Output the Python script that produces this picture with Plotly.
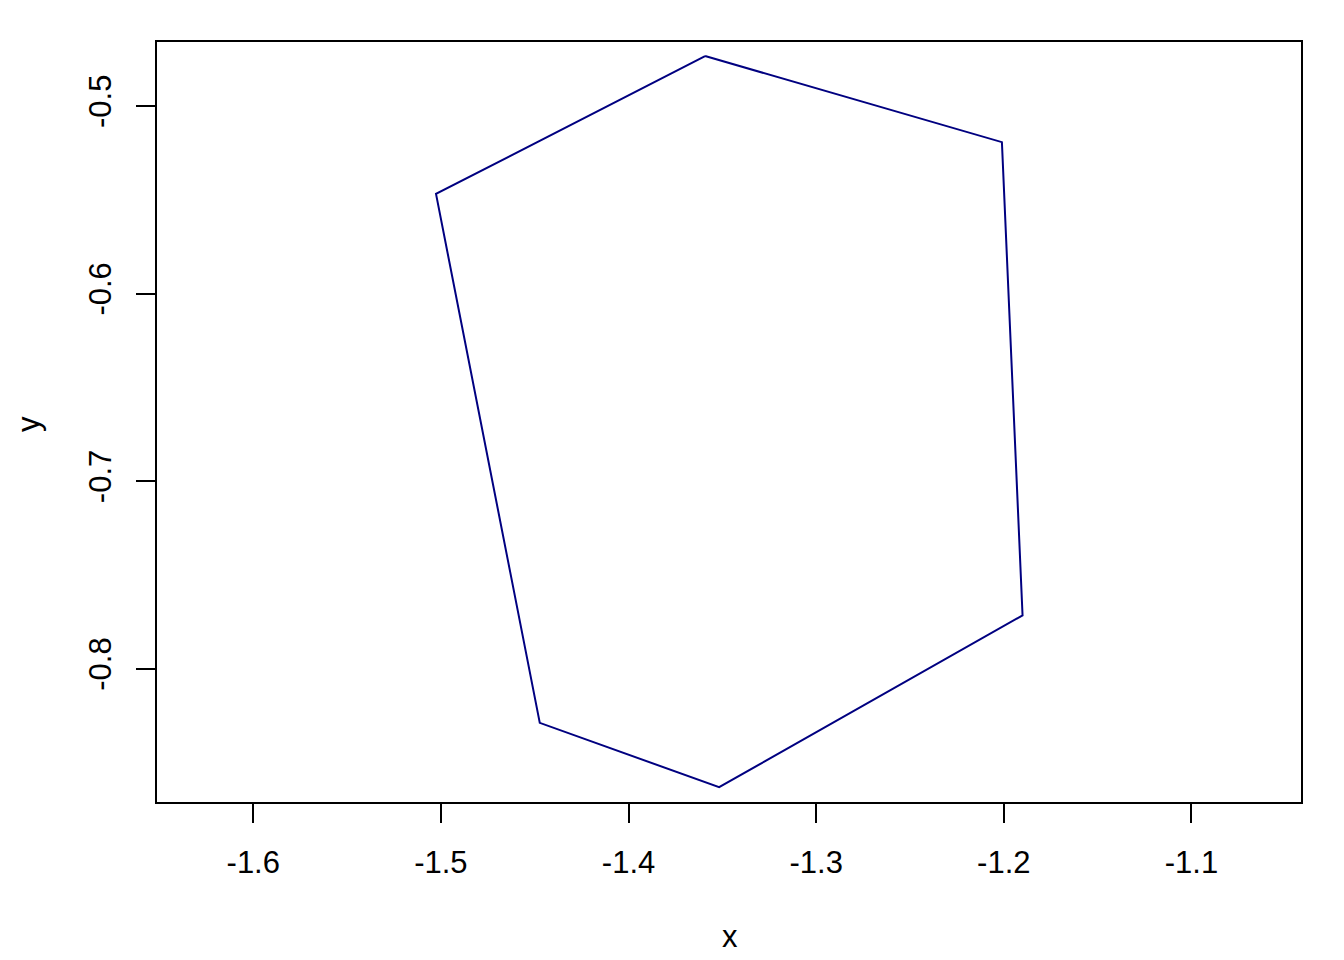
import plotly.graph_objects as go

x_vals = [-1.3592, -1.2010, -1.1900, -1.3517, -1.4473, -1.5026, -1.3592]
y_vals = [-0.4734, -0.5193, -0.7716, -0.8632, -0.8289, -0.5469, -0.4734]
x_ticks = [-1.6, -1.5, -1.4, -1.3, -1.2, -1.1]
x_tick_labels = ["-1.6", "-1.5", "-1.4", "-1.3", "-1.2", "-1.1"]
y_ticks = [-0.5, -0.6, -0.7, -0.8]
y_tick_labels = ["-0.5", "-0.6", "-0.7", "-0.8"]

FONT = "Liberation Sans, Arial, Helvetica, sans-serif"
FS = 31

fig = go.Figure()
fig.add_trace(go.Scatter(x=x_vals, y=y_vals, mode="lines",
                         line=dict(color="#000080", width=2),
                         showlegend=False, hoverinfo="skip"))

L, R, T, B = 157, 43, 42, 158
W, H = 1344, 960
fig.update_layout(
    width=W, height=H,
    margin=dict(l=L, r=R, t=T, b=B),
    paper_bgcolor="white", plot_bgcolor="white",
    font=dict(family=FONT, size=FS, color="black"),
    xaxis=dict(range=[-1.6513, -1.0416], tickvals=x_ticks, ticktext=x_tick_labels,
               showgrid=False, zeroline=False, showline=True, mirror=True,
               linecolor="black", linewidth=1.5, ticks="outside", ticklen=19,
               tickwidth=1.5, tickcolor="black", ticklabelstandoff=13,
               tickfont=dict(family=FONT, size=FS, color="black")),
    yaxis=dict(range=[-0.8711, -0.4659], tickvals=y_ticks, ticktext=y_tick_labels,
               showgrid=False, zeroline=False, showline=True, mirror=True,
               linecolor="black", linewidth=1.5, ticks="outside", ticklen=19,
               tickwidth=1.5, tickcolor="black", tickangle=-90, ticklabelstandoff=13,
               tickfont=dict(family=FONT, size=FS, color="black")),
)
pw, ph = W - L - R, H - T - B
fig.add_annotation(text="x", xref="paper", yref="paper",
                   x=(730 - L) / pw, y=-(936 - (H - B)) / ph,
                   showarrow=False, xanchor="center", yanchor="middle",
                   font=dict(family=FONT, size=FS, color="black"))
fig.add_annotation(text="y", xref="paper", yref="paper",
                   x=-(L - 28) / pw, y=((H - B) - 424) / ph,
                   showarrow=False, xanchor="center", yanchor="middle", textangle=-90,
                   font=dict(family=FONT, size=FS, color="black"))

fig.write_html("out.html", config={"displayModeBar": False},
               post_script="document.body.style.margin='0';")
